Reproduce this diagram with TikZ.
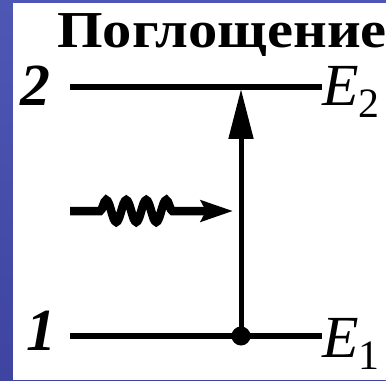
\documentclass[tikz,border=0pt]{standalone}
\usepackage{fontspec}
\setmainfont{Liberation Serif}
\usetikzlibrary{arrows.meta,positioning,decorations.pathmorphing}
\definecolor{slideblue}{RGB}{78,88,180}
\definecolor{slidegray}{RGB}{150,148,182}
\definecolor{slidedark}{RGB}{62,68,160}
\tikzset{
  niveau/.style={line width=0.13cm},
  numero/.style={font=\fontsize{34}{36}\selectfont\bfseries\itshape,inner sep=0pt},
  energie/.style={font=\fontsize{34}{36}\selectfont\itshape,inner sep=0pt,anchor=west},
}

\begin{document}
\begin{tikzpicture}[x=0.02cm,y=-0.02cm]
  % fond de la diapositive
  \useasboundingbox (0,0) rectangle (386,380);
  \shade[top color=slideblue,middle color=slidegray,bottom color=slidedark] (0,0) rectangle (386,380);
  \fill[white] (13,3) rectangle (386,380);
  % titre
  \node[font=\fontsize{29.5}{30}\selectfont\bfseries,inner sep=0pt,anchor=base,xscale=1.13] (titre) at (222,47) {Поглощение};
  % niveaux 2 et 1
  \coordinate (h2g) at (70,87);
  \coordinate (h2d) at (322,87);
  \coordinate (h1g) at (70,336);
  \coordinate (h1d) at (322,336);
  \draw[niveau] (h2g) -- (h2d);
  \draw[niveau] (h1g) -- (h1d);
  \node[numero] (n2) at (35,86) {2};
  \node[numero] (n1) at (41,331) {1};
  \node[energie] (e2) at ([yshift=-0.1cm]h2d) {E\textsubscript{\upshape 2}};
  \node[energie] (e1) at ([yshift=-0.16cm]h1d) {E\textsubscript{\upshape 1}};
  % transition vers le haut
  \node[circle,fill,minimum size=0.38cm,inner sep=0pt] (point) at (241,336) {};
  \coordinate (haut) at (241,89);
  \draw[line width=0.1cm,-{Triangle[length=1cm,width=0.48cm]}] (point.center) -- (haut);
  % photon absorbé
  \coordinate (ondeA) at (70,211);
  \coordinate (ondeB) at (233,211);
  \draw[line width=0.17cm,-{Stealth[length=0.64cm,width=0.42cm,inset=0.1cm]},decorate,
        decoration={snake,amplitude=0.22cm,segment length=0.4cm,pre length=0.6cm,post length=1.2cm}]
        (ondeA) -- (ondeB);
\end{tikzpicture}
\end{document}
